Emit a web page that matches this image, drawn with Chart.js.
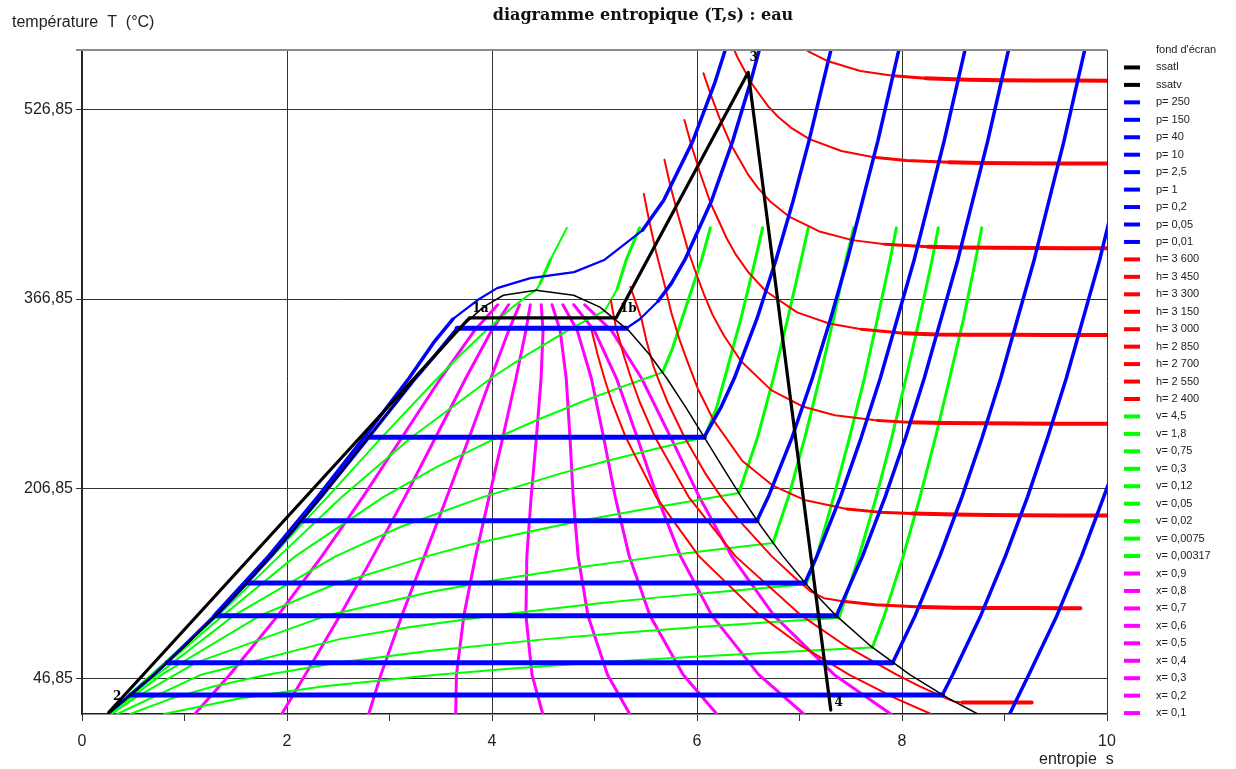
<!DOCTYPE html>
<html>
<head>
<meta charset="utf-8">
<title>diagramme entropique (T,s) : eau</title>
<script src="https://cdn.jsdelivr.net/npm/chart.js@4.4.1/dist/chart.umd.min.js"></script>
<style>
  html, body { margin: 0; padding: 0; background: #fff; }
  #wrap { width: 1236px; height: 769px; }
</style>
</head>
<body>
<div id="wrap"><canvas id="ts" width="1236" height="769"></canvas></div>
<script>
// points are [s (kJ/kg.K), T (°C)]

const sTicks = [0, 1, 2, 3, 4, 5, 6, 7, 8, 9, 10];
const tTicks = [46.85, 206.85, 366.85, 526.85];

// courbe de saturation
const ssatl = [[0.251,16.85],[0.437,30],[0.704,50],[1.016,75],[1.307,100],[1.581,125],[1.842,150],[2.091,175],[2.331,200],[2.564,225],[2.793,250],[3.021,275],[3.253,300],[3.448,320],[3.659,340],[3.915,360],[4.111,370],[4.430,374.14]];
const ssatv = [[4.430,374.14],[4.797,370],[5.053,360],[5.336,340],[5.536,320],[5.705,300],[5.894,275],[6.073,250],[6.250,225],[6.432,200],[6.626,175],[6.838,150],[7.078,125],[7.355,100],[7.682,75],[8.076,50],[8.453,30],[8.739,16.85]];

// cycle (fond d'écran)
const cycle = [[0.264,18.5],[3.778,350.85],[5.211,350.85],[6.50,558],[7.305,20.2]];
const cycleNames = ['2', '1a', '1b', '3', '4'];
const cycleTextAt = [[0.342,31.7],[3.887,358.4],[5.33,358.4],[6.553,569.8],[7.383,26.6]];

// isobares (bar)
const pLabels = ['p= 250', 'p= 150', 'p= 40', 'p= 10', 'p= 2,5', 'p= 1', 'p= 0,2', 'p= 0,05', 'p= 0,01'];
const p250 = [[0.25,16.85],[0.70,50],[1.29,100],[1.82,150],[2.30,200],[2.75,250],[3.19,300],[3.43,330],[3.62,350],[3.86,366],[4.05,376],[4.375,384.5],[4.8,389.5],[5.10,400],[5.47,425],[5.674,450],[5.959,500],[6.177,550],[6.360,600]];
const p150 = [[0.25,16.85],[0.704,50],[1.307,100],[1.842,150],[2.331,200],[2.793,250],[3.253,300],[3.45,320],[3.66,342.16],[5.311,342.16],[5.444,350],[5.62,365],[5.75,380],[5.882,400],[6.143,450],[6.348,500],[6.523,550],[6.680,600]];
const p40 = [[0.25,16.85],[0.704,50],[1.307,100],[1.842,150],[2.331,200],[2.564,225],[2.797,250.35],[6.070,250.35],[6.231,275],[6.364,300],[6.584,350],[6.771,400],[6.939,450],[7.092,500],[7.371,600]];
const p10 = [[0.25,16.85],[0.704,50],[1.307,100],[1.581,125],[1.842,150],[2.138,179.88],[6.585,179.88],[6.696,200],[6.927,250],[7.125,300],[7.303,350],[7.467,400],[7.764,500],[8.031,600]];
const p2_5 = [[0.25,16.85],[0.704,50],[1.307,100],[1.607,127.41],[7.052,127.41],[7.17,150],[7.40,200],[7.602,250],[7.788,300],[8.119,400],[8.411,500],[8.676,600]];
const p1 = [[0.251,16.85],[0.704,50],[1.303,99.61],[7.359,99.61],[7.615,150],[7.836,200],[8.035,250],[8.217,300],[8.545,400],[8.836,500],[9.100,600]];
const p0_2 = [[0.251,16.85],[0.832,60.06],[7.909,60.06],[8.129,100],[8.369,150],[8.585,200],[8.782,250],[8.963,300],[9.290,400],[9.580,500],[9.843,600]];
const p0_05 = [[0.251,16.85],[0.476,32.87],[8.394,32.87],[8.494,50],[8.769,100],[9.009,150],[9.225,200],[9.421,250],[9.603,300],[9.929,400],[10.07,450]];
const p0_01 = [[9.05,16.85],[9.237,50],[9.512,100],[9.752,150],[9.968,200],[10.01,210]];

// isenthalpes (kJ/kg)
const hLabels = ['h= 3 600', 'h= 3 450', 'h= 3 300', 'h= 3 150', 'h= 3 000', 'h= 2 850', 'h= 2 700', 'h= 2 550', 'h= 2 400'];
const h3600 = [[6.972,582],[7.10,575],[7.28,567.3],[7.594,559.2],[7.911,555.1],[8.230,553],[8.652,551.7],[8.971,551.3],[9.291,551.2],[9.714,551.1],[10.03,551]];
const h3450 = [[6.311,586.7],[6.401,569.6],[6.523,550],[6.600,540.6],[6.693,529.5],[6.790,520.6],[6.916,511.4],[7.097,501.7],[7.409,491.7],[7.724,486.4],[8.042,483.7],[8.463,482.1],[8.783,481.6],[9.103,481.4],[9.525,481.2],[9.845,481.1],[10.165,481]];
const h3300 = [[6.063,557.3],[6.132,539.7],[6.218,519.9],[6.334,496.5],[6.409,485.4],[6.499,471.7],[6.594,460.6],[6.718,448.8],[6.894,436.6],[7.203,423.5],[7.516,416.5],[7.834,413],[8.255,410.9],[8.575,410.2],[8.895,410],[9.318,409.8],[9.638,409.7],[9.957,409.6],[10.06,409.6]];
const h3150 = [[5.877,517.8],[5.943,497.1],[6.022,475.2],[6.132,447.8],[6.203,434.5],[6.289,418.1],[6.381,404],[6.500,389.5],[6.672,373.4],[6.977,355.6],[7.289,346.2],[7.604,341.3],[8.019,338],[8.339,337],[8.659,336.8],[9.081,336.6],[9.401,336.5],[9.72,336.4],[10.04,336.4]];
const h3000 = [[5.682,484.4],[5.742,461.8],[5.815,437.6],[5.917,406.7],[5.982,390.7],[6.063,371.9],[6.150,353.9],[6.262,336.1],[6.428,314.6],[6.724,290],[7.030,276.2],[7.344,268.8],[7.763,264.3],[8.081,262.8],[8.401,262.3],[8.824,262],[9.144,261.8],[9.464,261.7],[9.887,261.6],[10.02,261.6]];
const h2850 = [[5.481,455.5],[5.534,432.6],[5.600,406.6],[5.687,377.8],[5.749,355.5],[5.825,333.7],[5.900,315.7],[6.007,291.4],[6.162,264.5],[6.443,230.2],[6.739,209.5],[7.048,197.4],[7.462,189.8],[7.779,187.1],[8.099,185.9],[8.522,185.2],[8.839,184.7],[9.159,184.5],[9.582,184.3],[9.902,184.2],[10.06,184.2]];
const h2700 = [[5.35,377],[5.455,351.2],[5.507,331.7],[5.572,311],[5.619,300],[5.712,280],[5.879,250],[6.079,220],[6.235,200],[6.413,180],[6.728,150],[6.976,130],[7.113,120],[7.24,114.5],[7.422,112],[7.739,109],[8.19,107],[8.51,106.5],[8.83,106.3],[9.25,106.2],[9.57,106.1],[9.74,106]];
const h2550 = [[5.16,366],[5.18,356],[5.211,342.2],[5.218,340],[5.283,320],[5.357,300],[5.441,280],[5.592,250],[5.918,200],[6.374,150],[7.017,100],[7.437,75],[7.947,50],[8.179,40],[8.432,30],[8.505,27.5],[8.59,26.6],[8.78,26.5],[9.10,26.5],[9.265,26.5]];
const h2400 = [[4.96,343],[4.973,340],[5.030,320],[5.096,300],[5.170,280],[5.306,250],[5.601,200],[6.018,150],[6.615,100],[7.006,75],[7.483,50],[7.938,30],[8.283,16.85]];

// isochores (m3/kg)
const vLabels = ['v= 4,5', 'v= 1,8', 'v= 0,75', 'v= 0,3', 'v= 0,12', 'v= 0,05', 'v= 0,02', 'v= 0,0075', 'v= 0,00317'];
const v4_5 = [[0.80,16.85],[1.534,30],[2.344,40],[3.461,50],[4.165,55],[4.983,60],[5.931,65],[7.024,70],[7.50,72],[7.711,73],[7.828,100],[8.012,150],[8.176,200],[8.326,250],[8.465,300],[8.600,350],[8.718,400],[8.778,426.85]];
const v1_8 = [[0.4705,16.85],[0.875,30],[1.281,40],[1.807,50],[2.493,60],[3.383,70],[4.529,80],[5.214,85],[5.985,90],[6.849,95],[7.385,97.9],[7.581,150],[7.749,200],[7.900,250],[8.039,300],[8.170,350],[8.294,400],[8.354,426.85]];
const v0_75 = [[0.3425,16.85],[1.163,50],[2.514,80],[3.190,90],[4.018,100],[5.025,110],[5.604,115],[6.238,120],[7.064,126.35],[7.169,150],[7.334,200],[7.488,250],[7.633,300],[7.76,350],[7.884,400],[7.945,426.85]];
const v0_3 = [[0.287,16.85],[0.510,30],[1.108,60],[2.391,100],[3.412,120],[4.055,130],[4.799,140],[5.658,150],[6.132,155],[6.741,161.1],[6.893,200],[7.052,250],[7.196,300],[7.332,350],[7.453,400],[7.529,426.85]];
const v0_12 = [[0.266,16.85],[0.777,50],[1.741,100],[2.429,125],[3.368,150],[3.803,160],[4.327,170],[4.879,180],[5.511,190],[6.409,203.2],[6.59,250],[6.745,300],[6.884,350],[7.017,400],[7.085,426.85]];
const v0_05 = [[0.254,16.85],[0.734,50],[1.484,100],[2.478,150],[3.116,175],[3.918,200],[4.682,220],[5.109,230],[5.570,240],[6.073,250.2],[6.19,275],[6.27,300],[6.428,350],[6.569,400],[6.64,426.85]];
const v0_02 = [[0.252,16.85],[1.375,100],[2.083,150],[2.943,200],[3.458,225],[4.051,250],[4.445,265],[4.873,280],[5.179,290],[5.502,300],[5.664,305],[5.76,325],[5.853,350],[6.045,400],[6.13,426.85]];
const v0_0075 = [[0.251,16.85],[1.330,100],[1.924,150],[2.537,200],[3.212,250],[3.991,300],[4.344,320],[4.732,340],[4.945,350],[5.10,357],[5.22,375],[5.31,400],[5.44,426.85]];
const v0_00317 = [[0.251,16.85],[1.315,100],[2.396,200],[2.922,250],[3.467,300],[3.697,320],[3.940,340],[4.202,360],[4.353,370],[4.43,374.14],[4.47,380],[4.57,400],[4.73,426.85]];

// titres
const xLabels = ['x= 0,9', 'x= 0,8', 'x= 0,7', 'x= 0,6', 'x= 0,5', 'x= 0,4', 'x= 0,3', 'x= 0,2', 'x= 0,1'];
const x0_9 = [[7.890,16.85],[7.339,50],[6.750,100],[6.338,150],[6.022,200],[5.745,250],[5.459,300],[5.168,340],[4.904,362]];
const x0_8 = [[7.041,16.85],[6.602,50],[6.145,100],[5.839,150],[5.612,200],[5.417,250],[5.214,300],[5.000,340],[4.798,362]];
const x0_7 = [[6.193,16.85],[5.865,50],[5.541,100],[5.339,150],[5.202,200],[5.089,250],[4.969,300],[4.833,340],[4.692,362]];
const x0_6 = [[5.344,16.85],[5.127,50],[4.936,100],[4.840,150],[4.792,200],[4.761,250],[4.724,300],[4.665,340],[4.586,362]];
const x0_5 = [[4.495,16.85],[4.390,50],[4.331,100],[4.340,150],[4.382,200],[4.433,250],[4.479,300],[4.498,340],[4.480,362]];
const x0_4 = [[3.646,16.85],[3.653,50],[3.726,100],[3.840,150],[3.972,200],[4.105,250],[4.234,300],[4.330,340],[4.374,362]];
const x0_3 = [[2.797,16.85],[2.916,50],[3.121,100],[3.341,150],[3.561,200],[3.777,250],[3.989,300],[4.162,340],[4.268,362]];
const x0_2 = [[1.949,16.85],[2.178,50],[2.517,100],[2.841,150],[3.151,200],[3.449,250],[3.744,300],[3.995,340],[4.162,362]];
const x0_1 = [[1.100,16.85],[1.441,50],[1.912,100],[2.341,150],[2.741,200],[3.121,250],[3.499,300],[3.827,340],[4.056,362]];

const pCurves = [p250, p150, p40, p10, p2_5, p1, p0_2, p0_05, p0_01];
const hCurves = [h3600, h3450, h3300, h3150, h3000, h2850, h2700, h2550, h2400];
const vCurves = [v4_5, v1_8, v0_75, v0_3, v0_12, v0_05, v0_02, v0_0075, v0_00317];
const xCurves = [x0_9, x0_8, x0_7, x0_6, x0_5, x0_4, x0_3, x0_2, x0_1];

const BLUE = '#0000ff', RED = '#ff0000', GREEN = '#00ff00', MAGENTA = '#ff00ff';

function pts(arr) {
  return arr.map(p => ({ x: p[0], y: p[1] }));
}

function slope(c) {
  const dx = Math.abs(c.p1.x - c.p0.x), dy = Math.abs(c.p1.y - c.p0.y);
  return dx < 0.01 ? 99 : dy / dx;
}

function line(label, arr, color, width, segWidth) {
  const ds = {
    label: label,
    data: pts(arr),
    showLine: true,
    borderColor: color,
    backgroundColor: color,
    borderWidth: width,
    pointRadius: 0,
    pointHoverRadius: 0,
    tension: 0,
    clip: 0,
    borderJoinStyle: 'round',
    borderCapStyle: 'round'
  };
  if (segWidth) ds.segment = { borderWidth: segWidth };
  return ds;
}

const blueW = c => { const k = slope(c); return k < 0.01 ? 5 : (k < 1 ? 2.2 : 3.5); };
const redW = c => { const k = slope(c); return k < 0.04 ? 4 : (k < 0.12 ? 3 : 2); };
const greenW = c => slope(c) > 2 ? 3 : 2;

// index 0 is drawn on top
const datasets = [];
datasets.push(line("fond d'écran", cycle, '#000', 3.2));
datasets.push(line('ssatl', ssatl, '#000', 1.5));
datasets.push(line('ssatv', ssatv, '#000', 1.5));
pCurves.forEach((c, i) => datasets.push(line(pLabels[i], c, BLUE, 3.5, blueW)));
hCurves.forEach((c, i) => datasets.push(line(hLabels[i], c, RED, 2, redW)));
vCurves.forEach((c, i) => datasets.push(line(vLabels[i], c, GREEN, 2, greenW)));
xCurves.forEach((c, i) => datasets.push(line(xLabels[i], c, MAGENTA, 3)));

const FONT = '"Liberation Sans", Arial, sans-serif';

const decor = {
  id: 'decor',
  afterDraw(chart) {
    const c = chart.ctx, a = chart.chartArea;
    const xs = chart.scales.x, ys = chart.scales.y;
    c.save();
    c.strokeStyle = '#8c8c8c';
    c.lineWidth = 2;
    c.beginPath();
    c.moveTo(a.left - 6, a.top);
    c.lineTo(a.right, a.top);
    c.stroke();

    c.fillStyle = '#111';
    c.textBaseline = 'middle';
    c.font = 'bold 16px "DejaVu Serif", serif';
    c.textAlign = 'center';
    c.fillText('diagramme entropique (T,s) : eau', 643, 16);

    c.font = '16px ' + FONT;
    c.textAlign = 'left';
    c.fillStyle = '#222';
    c.fillText('température  T  (°C)', 12, 23);
    c.fillText('entropie  s', 1039, 760);

    // labels of the cycle points
    c.font = 'bold 12px "DejaVu Serif", serif';
    c.textAlign = 'center';
    c.fillStyle = '#000';
    cycleNames.forEach((n, i) => {
      c.fillText(n, xs.getPixelForValue(cycleTextAt[i][0]), ys.getPixelForValue(cycleTextAt[i][1]));
    });

    // legend
    const seen = [];
    chart.data.datasets.forEach(ds => { if (!seen.find(s => s.label === ds.label)) seen.push(ds); });
    c.font = '11px ' + FONT;
    c.textAlign = 'left';
    seen.forEach((ds, i) => {
      const yy = 50 + i * 17.45;
      if (i > 0) {
        c.strokeStyle = ds.borderColor;
        c.lineWidth = 4;
        c.lineCap = 'butt';
        c.beginPath();
        c.moveTo(1124, yy);
        c.lineTo(1140, yy);
        c.stroke();
      }
      c.fillStyle = '#222';
      c.fillText(ds.label, 1156, yy);
    });
    c.restore();
  }
};

new Chart(document.getElementById('ts'), {
  type: 'scatter',
  data: { datasets: datasets },
  options: {
    responsive: false,
    animation: false,
    events: [],
    layout: { padding: { left: 0, right: 129, top: 50, bottom: 0 } },
    plugins: {
      legend: { display: false },
      title: { display: false },
      tooltip: { enabled: false }
    },
    scales: {
      x: {
        type: 'linear',
        min: 0,
        max: 10,
        afterFit: s => { s.height = 55; },
        afterBuildTicks: s => { s.ticks = sTicks.map(v => ({ value: v })); },
        border: { display: true, color: '#222', width: 1.5 },
        grid: {
          color: ctx => (ctx.tick && ctx.tick.value % 2 === 0) ? '#333' : 'rgba(0,0,0,0)',
          tickColor: '#333',
          tickLength: 7,
          lineWidth: 1
        },
        ticks: {
          padding: 11,
          color: '#222',
          font: { family: FONT, size: 16 },
          maxRotation: 0,
          autoSkip: false,
          callback: v => (v % 2 === 0 ? String(v) : '')
        }
      },
      y: {
        type: 'linear',
        min: 16.85,
        max: 576.85,
        afterFit: s => { s.width = 82; },
        afterBuildTicks: s => { s.ticks = tTicks.map(v => ({ value: v })); },
        border: { display: true, color: '#222', width: 1.5 },
        grid: { color: '#333', tickColor: '#333', tickLength: 6, lineWidth: 1 },
        ticks: {
          padding: 3,
          color: '#222',
          font: { family: FONT, size: 16 },
          callback: v => v.toFixed(2).replace('.', ',')
        }
      }
    }
  },
  plugins: [decor]
});
</script>
</body>
</html>
